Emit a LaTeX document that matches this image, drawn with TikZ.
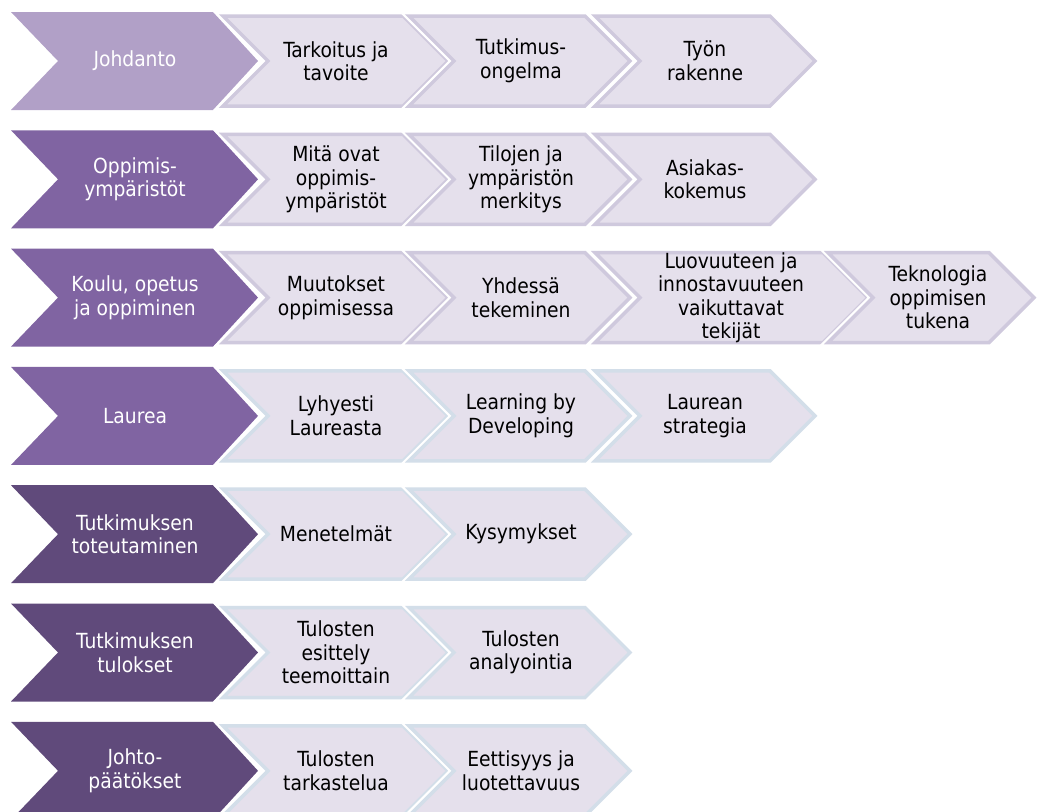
\documentclass[tikz,border=0pt]{standalone}
\usepackage{fontspec}
\setmainfont{DejaVu Sans Condensed}

\definecolor{paa1}{HTML}{B1A0C7}
\definecolor{paa2}{HTML}{8064A2}
\definecolor{paa3}{HTML}{604A7B}
\definecolor{alafill}{HTML}{E5E0EC}
\definecolor{reuna1}{HTML}{CFC9DD}
\definecolor{reuna2}{HTML}{D3DEE9}

% big chevron at the left : colour, row centre
\newcommand{\paachevron}[2]{%
  \fill[#1] (11,#2-49) -- (213,#2-49) -- (258,#2) -- (213,#2+49) %
    -- (11,#2+49) -- (58,#2) -- cycle ;}
% small chevron : border colour, left edge, tip, row centre
\newcommand{\alachevron}[4]{%
  \draw[white,line width=8pt] (#2+2,#4-45) -- (#3-47,#4-45) -- (#3-2,#4) %
    -- (#3-47,#4+45) -- (#2+2,#4+45) -- (#2+47,#4) -- cycle ;
  \draw[#1,line width=3.5pt,fill=alafill] (#2+2,#4-45) -- (#3-47,#4-45) %
    -- (#3-2,#4) -- (#3-47,#4+45) -- (#2+2,#4+45) -- (#2+47,#4) -- cycle ;}

\begin{document}
\begin{tikzpicture}[x=1pt,y=-1pt,
    font=\fontsize{20.8}{23.5}\selectfont,
    paateksti/.style={align=center,text=white,inner sep=0pt},
    alateksti/.style={align=center,text=black,inner sep=0pt}]
  \useasboundingbox (0,0) rectangle (1038,811) ;
  \clip (0,0) rectangle (1038,811) ;

  % Johdanto
  \paachevron{paa1}{61}
  \alachevron{reuna1}{221}{450}{61}
  \alachevron{reuna1}{407}{632}{61}
  \alachevron{reuna1}{593}{817}{61}
  \node[paateksti] (johdanto) at (135,61) {Johdanto} ;
  \node[alateksti] (tarkoitus) at (336,61) {Tarkoitus ja\\tavoite} ;
  \node[alateksti] (ongelma) at (521,61) {Tutkimus-\\ongelma} ;
  \node[alateksti] (rakenne) at (705,61) {Työn\\rakenne} ;

  % Oppimisympäristöt
  \paachevron{paa2}{179.3}
  \alachevron{reuna1}{221}{450}{179.3}
  \alachevron{reuna1}{407}{632}{179.3}
  \alachevron{reuna1}{593}{817}{179.3}
  \node[paateksti] (oppymp) at (135,179.3) {Oppimis-\\ympäristöt} ;
  \node[alateksti] (mita) at (336,179.3) {Mitä ovat\\oppimis-\\ympäristöt} ;
  \node[alateksti] (tilat) at (521,179.3) {Tilojen ja\\ympäristön\\merkitys} ;
  \node[alateksti] (asiakas) at (705,179.3) {Asiakas-\\kokemus} ;

  % Koulu, opetus ja oppiminen
  \paachevron{paa2}{297.6}
  \alachevron{reuna1}{221}{450}{297.6}
  \alachevron{reuna1}{407}{632}{297.6}
  \alachevron{reuna1}{593}{870}{297.6}
  \alachevron{reuna1}{826}{1036}{297.6}
  \node[paateksti] (koulu) at (135,297.6) {Koulu, opetus\\ja oppiminen} ;
  \node[alateksti] (muutokset) at (336,297.6) {Muutokset\\oppimisessa} ;
  \node[alateksti] (yhdessa) at (521,297.6) {Yhdessä\\tekeminen} ;
  \node[alateksti] (luovuus) at (731,297.6) {Luovuuteen ja\\innostavuuteen\\vaikuttavat\\tekijät} ;
  \node[alateksti] (teknologia) at (938,297.6) {Teknologia\\oppimisen\\tukena} ;

  % Laurea
  \paachevron{paa2}{415.9}
  \alachevron{reuna2}{221}{450}{415.9}
  \alachevron{reuna2}{407}{632}{415.9}
  \alachevron{reuna2}{593}{817}{415.9}
  \node[paateksti] (laurea) at (135,415.9) {Laurea} ;
  \node[alateksti] (lyhyesti) at (336,415.9) {Lyhyesti\\Laureasta} ;
  \node[alateksti] (lbd) at (521,415.9) {Learning by\\Developing} ;
  \node[alateksti] (strategia) at (705,415.9) {Laurean\\strategia} ;

  % Tutkimuksen toteutaminen
  \paachevron{paa3}{534.2}
  \alachevron{reuna2}{221}{450}{534.2}
  \alachevron{reuna2}{407}{632}{534.2}
  \node[paateksti] (toteutus) at (135,534.2) {Tutkimuksen\\toteutaminen} ;
  \node[alateksti] (menetelmat) at (336,534.2) {Menetelmät} ;
  \node[alateksti] (kysymykset) at (521,534.2) {Kysymykset} ;

  % Tutkimuksen tulokset
  \paachevron{paa3}{652.5}
  \alachevron{reuna2}{221}{450}{652.5}
  \alachevron{reuna2}{407}{632}{652.5}
  \node[paateksti] (tulokset) at (135,652.5) {Tutkimuksen\\tulokset} ;
  \node[alateksti] (esittely) at (336,652.5) {Tulosten\\esittely\\teemoittain} ;
  \node[alateksti] (analyysi) at (521,652.5) {Tulosten\\analyointia} ;

  % Johtopäätökset
  \paachevron{paa3}{770.8}
  \alachevron{reuna2}{221}{450}{770.8}
  \alachevron{reuna2}{407}{632}{770.8}
  \node[paateksti] (johtopaat) at (135,770.8) {Johto-\\päätökset} ;
  \node[alateksti] (tarkastelu) at (336,770.8) {Tulosten\\tarkastelua} ;
  \node[alateksti] (eettisyys) at (521,770.8) {Eettisyys ja\\luotettavuus} ;
\end{tikzpicture}
\end{document}
